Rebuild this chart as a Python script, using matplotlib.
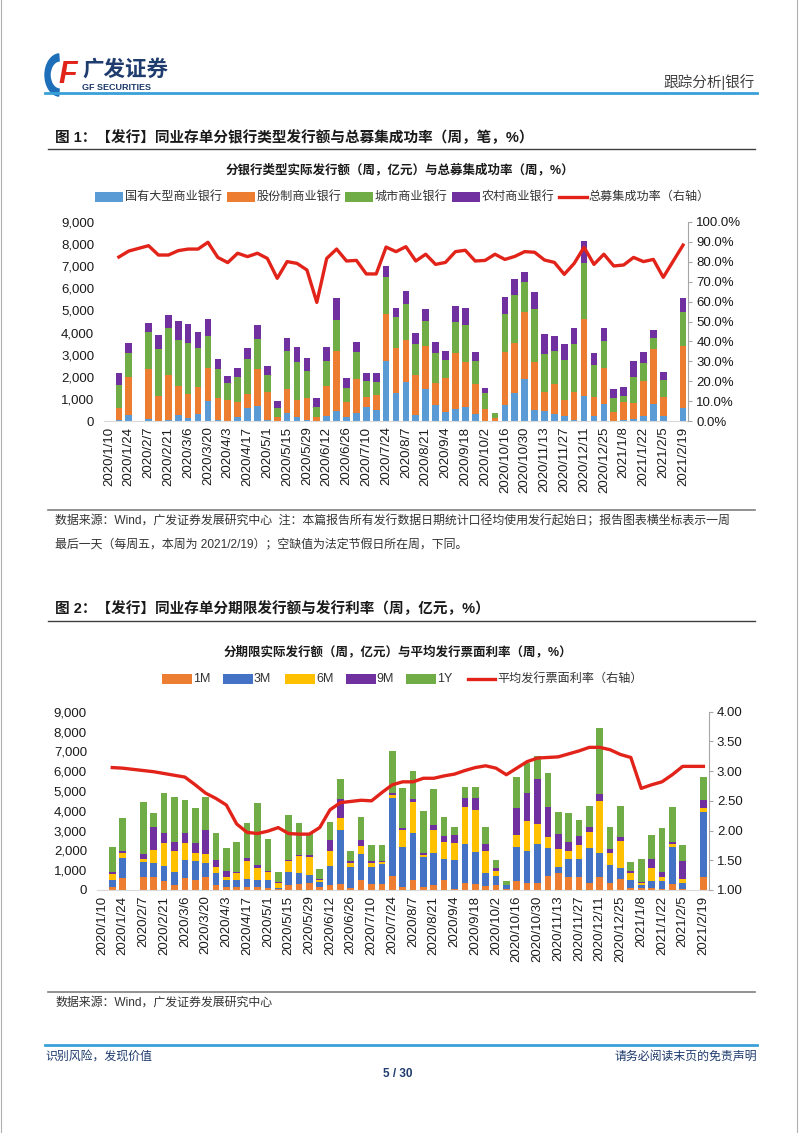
import numpy as np
import pandas as pd
import matplotlib
matplotlib.use('Agg')
import matplotlib.pyplot as plt
from matplotlib.patches import Rectangle, Wedge
from matplotlib.lines import Line2D
from matplotlib.ticker import FuncFormatter

plt.rcParams['font.family'] = ['Liberation Sans', 'Noto Sans CJK SC']

nan = np.nan

# weekly categories (Friday), labels shown every other week
weeks = pd.date_range('2020-01-10', '2021-02-19', freq='7D')
week_labels = [f'{d.year}/{d.month}/{d.day}' for d in weeks]

# ---- figure 1: issuance by bank type (100 mn yuan) and success rate (%)
bank_types = ['国有大型商业银行', '股份制商业银行', '城市商业银行', '农村商业银行']
big4 = [nan, 30, 290, nan, 70, 20, 40, 290, 150, 300,
        890, 60, 20, 180, 600, 680, 40, 0, 350, 200,
        40, 10, 220, 470, 180, 350, 630, 500, 2710, 1250,
        1780, 290, 1430, 720, 420, 530, 620, 300, 0, 0,
        720, 1250, 1900, 500, 470, 300, 230, 50, 1130, 230,
        770, 0, 50, 80, 230, 770, 230, nan, 570]
joint = [nan, 570, 1700, nan, 2270, 1110, 2030, 1300, 1070, 1250,
         1510, 960, 920, 680, 610, 1660, 1260, 160, 1090, 770,
         1020, 180, 1350, 2680, 690, 1540, 460, 660, 2140, 2060,
         1870, 1810, 1980, 980, 1540, 2530, 2030, 1360, 540, 150,
         2420, 2260, 3020, 2180, 860, 1370, 740, 1280, 3470, 870,
         1610, 390, 830, 750, 1580, 2490, 870, nan, 2820]
city = [nan, 1020, 1100, nan, 1670, 2120, 2120, 2090, 2310, 1770,
        1440, 1320, 770, 1120, 1580, 1380, 780, 420, 1740, 1720,
        1190, 450, 1150, 1440, 640, 1250, 720, 610, 1640, 1410,
        1620, 1380, 1110, 1390, 800, 1430, 1690, 1050, 710, 230,
        1690, 2190, 1350, 2370, 1690, 1510, 1790, 2140, 2530, 1430,
        1240, 640, 260, 1180, 800, 480, 760, nan, 1560]
rural = [nan, 530, 450, nan, 410, 640, 610, 860, 840, 720,
         790, 460, 340, 400, 530, 620, 420, 330, 570, 650,
         580, 380, 610, 960, 440, 420, 380, 420, 510, 400,
         630, 510, 550, 500, 410, 710, 790, 400, 230, 0,
         800, 730, 490, 800, 900, 670, 710, 750, 1010, 560,
         600, 400, 390, 700, 500, 380, 370, nan, 600]
success = [nan, 82.4, 85.4, nan, 88.1, 83.4, 83.4, 85.6, 86.4, 86.4,
           89.8, 82.2, 79.6, 84.3, 82.6, 84.3, 81.7, 71.7, 80.1, 79.2,
           75.9, 59.6, 81.7, 86.4, 80.4, 80.7, 73.9, 73.9, 87.4, 85.1,
           87.6, 80.4, 83.8, 78.7, 79.7, 85.1, 85.8, 80.4, 80.7, 83.8,
           81.2, 82.7, 85.1, 84.8, 80.9, 79.7, 73.7, 79.2, 87.3, 78.7,
           83.8, 77.9, 78.4, 82.2, 80.1, 81.2, 72.2, nan, 88.4]

# ---- figure 2: issuance by tenor and average coupon
tenors = ['1M', '3M', '6M', '9M', '1Y']
m1 = [nan, 170, 620, nan, 670, 640, 450, 250, 620, 510,
      670, 250, 170, 170, 170, 170, 80, 50, 250, 300,
      370, 130, 250, 300, 120, 510, 290, 290, 720, 170,
      510, 170, 250, 510, 50, 340, 290, 200, 250, 70,
      450, 370, 340, 720, 880, 670, 670, 370, 670, 340,
      540, 120, 80, 80, 30, 290, 70, nan, 640]
m3 = [nan, 340, 980, nan, 760, 740, 760, 680, 900, 950,
      710, 590, 340, 340, 370, 340, 430, 70, 680, 540,
      390, 260, 960, 2730, 1060, 1310, 890, 1010, 3910, 1980,
      2390, 1480, 1600, 1040, 1470, 1980, 1610, 680, 460, 180,
      1700, 1620, 1980, 1380, 300, 880, 880, 1770, 1180, 920,
      550, 390, 170, 390, 440, 1900, 270, nan, 3320]
m6 = [nan, 280, 250, nan, 120, 640, 1150, 1060, 840, 390,
      420, 340, 130, 370, 920, 620, 420, 250, 530, 880,
      920, 120, 780, 590, 170, 400, 200, 100, 170, 880,
      1560, 120, 1180, 890, 840, 1890, 2140, 1110, 270, 0,
      630, 1510, 1010, 560, 890, 420, 720, 770, 2660, 630,
      1380, 330, 120, 620, 200, 130, 200, nan, 160]
m9 = [nan, 120, 140, nan, 250, 1180, 540, 450, 540, 510,
      1230, 340, 320, 50, 140, 130, 30, 30, 70, 30,
      70, 30, 540, 960, 110, 310, 100, 80, 120, 100,
      120, 120, 250, 300, 420, 420, 590, 330, 110, 0,
      1340, 1420, 2260, 1550, 740, 440, 460, 290, 320, 160,
      220, 120, 50, 480, 260, 120, 920, nan, 430]
y1 = [nan, 1280, 1630, nan, 2660, 700, 1980, 2240, 1650, 1760,
      1650, 1380, 1160, 1480, 1770, 3120, 1600, 490, 2270, 1650,
      1150, 520, 900, 1030, 530, 1140, 790, 790, 2120, 2000,
      1450, 2100, 1800, 930, 420, 590, 560, 850, 430, 200,
      1570, 1480, 1180, 1680, 1150, 1500, 810, 1040, 3330, 1120,
      1550, 440, 1130, 1210, 2220, 1740, 810, nan, 1170]
coupon = [nan, 3.06, 3.05, nan, 3.01, 2.99, 2.96, 2.93, 2.90, 2.77,
          2.63, 2.54, 2.43, 2.11, 1.97, 1.95, 1.99, 2.05, 1.95, 1.94,
          1.94, 2.05, 2.35, 2.47, 2.49, 2.51, 2.50, 2.64, 2.77, 2.82,
          2.82, 2.88, 2.88, 2.92, 2.95, 3.01, 3.06, 3.09, 3.05, 2.94,
          3.05, 3.16, 3.22, 3.23, 3.24, 3.29, 3.34, 3.40, 3.40, 3.36,
          3.28, 3.23, 2.71, 2.77, 2.82, 2.94, 3.08, nan, 3.08]

colors1 = ['#5b9bd5', '#ed7d31', '#70ad47', '#7030a0']
colors2 = ['#ed7d31', '#4472c4', '#ffc000', '#7030a0', '#70ad47']
red = '#e2231a'
navy = '#1f3c6e'
txt = '#1a1a1a'

W, H = 802, 1133
fig = plt.figure(figsize=(W / 100, H / 100), dpi=100)


def T(x, y, s, **kw):
    kw.setdefault('va', 'center')
    fig.text(x / W, 1 - y / H, s, **kw)


def hline(x0, x1, y, color, lw):
    fig.add_artist(Line2D([x0 / W, x1 / W], [1 - y / H, 1 - y / H],
                          transform=fig.transFigure, color=color, lw=lw))


def vline(x, y0, y1, color, lw):
    fig.add_artist(Line2D([x / W, x / W], [1 - y0 / H, 1 - y1 / H],
                          transform=fig.transFigure, color=color, lw=lw))


def key(x, y, w, color, h=10):
    fig.add_artist(Rectangle((x / W, 1 - (y + h / 2) / H), w / W, h / H,
                             transform=fig.transFigure, facecolor=color,
                             edgecolor='none'))


def draw(rect, parts, colors, line, rlim, rstep, rfmt, bw):
    x = np.arange(len(weeks))
    ax = fig.add_axes(rect)
    bottom = np.zeros(len(x))
    for vals, c in zip(parts, colors):
        v = np.array(vals, dtype=float)
        ax.bar(x, v, bw, bottom=bottom, color=c, lw=0)
        bottom = bottom + np.nan_to_num(v)
    ax.set_xlim(-0.5, len(x) - 0.5)
    ax.set_ylim(0, 9000)
    ax.set_yticks(np.arange(0, 9001, 1000))
    ax.yaxis.set_major_formatter(FuncFormatter(lambda v, p: f'{v:,.0f}'))
    ax.set_xticks(x[::2])
    ax.set_xticklabels(week_labels[::2], rotation=90)
    ax.tick_params(axis='x', length=0, pad=4, labelsize=9.5, labelcolor=txt)
    ax.tick_params(axis='y', length=0, pad=7, labelsize=9.5, labelcolor=txt)
    for s in ['top', 'right', 'left']:
        ax.spines[s].set_visible(False)
    ax.spines['bottom'].set_color('#d9d9d9')

    axr = ax.twinx()
    r = np.array(line, dtype=float)
    m = ~np.isnan(r)
    axr.plot(x[m], r[m], color=red, lw=2.4)
    axr.set_ylim(*rlim)
    axr.set_yticks(np.arange(rlim[0], rlim[1] + 1e-9, rstep))
    axr.yaxis.set_major_formatter(FuncFormatter(rfmt))
    axr.tick_params(axis='y', length=3, color='#a6a6a6', pad=3,
                    labelsize=9.5, labelcolor=txt)
    for s in ['top', 'left', 'bottom']:
        axr.spines[s].set_visible(False)
    axr.spines['right'].set_color('#a6a6a6')
    return ax, axr


# ---------------- page header ----------------
vline(1, 0, H, '#b0b0b0', 0.8)
vline(797, 0, H, '#b0b0b0', 0.8)
fig.add_artist(Wedge((60 / W, 1 - 75 / H), 15 / W, 95, 265, width=5 / W,
                     transform=fig.transFigure, color='#1c6fb8'))
T(68, 75, 'F', fontsize=22, fontweight='bold', style='italic', color=red,
  ha='center', family='Liberation Sans')
T(82, 70, '广发证券', fontsize=15.5, fontweight='bold', color=navy)
T(82, 87, 'GF SECURITIES', fontsize=6.5, fontweight='bold', color=navy)
T(755, 82, '跟踪分析|银行', fontsize=10.5, color='#404040', ha='right')
hline(45, 757, 93, '#3aa0d8', 2.0)

# ---------------- figure 1 ----------------
T(55, 138, '图 1：【发行】同业存单分银行类型发行额与总募集成功率（周，笔，%）',
  fontsize=10.5, fontweight='bold', color=txt)
hline(48, 755, 149, '#404040', 1.0)
T(400, 170, '分银行类型实际发行额（周，亿元）与总募集成功率（周，%）',
  fontsize=9, fontweight='bold', color=txt, ha='center')

lx = [(95, 125), (227, 257), (345, 375), (452, 482)]
for (kx, tx), name, c in zip(lx, bank_types, colors1):
    key(kx, 197, 28, c)
    T(tx, 197, name, fontsize=8.7, color='#333333')
hline(559, 587, 197, red, 2.4)
T(588, 197, '总募集成功率（右轴）', fontsize=8.7, color='#333333')

draw([104 / W, 1 - 421 / H, 584 / W, 199 / H],
     [big4, joint, city, rural], colors1, success, (0, 100), 10,
     lambda v, p: f'{v:.1f}%', 0.67)

hline(48, 755, 510, '#7f7f7f', 1.2)
T(55, 521, '数据来源：Wind，广发证券发展研究中心  注：本篇报告所有发行数据日期统计口径均使用发行起始日；报告图表横坐标表示一周',
  fontsize=8.6, color='#333333')
T(55, 545, '最后一天（每周五，本周为 2021/2/19）；空缺值为法定节假日所在周，下同。',
  fontsize=8.6, color='#333333')

# ---------------- figure 2 ----------------
T(55, 609, '图 2：【发行】同业存单分期限发行额与发行利率（周，亿元，%）',
  fontsize=10.5, fontweight='bold', color=txt)
hline(48, 755, 621, '#404040', 1.0)
T(398, 652, '分期限实际发行额（周，亿元）与平均发行票面利率（周，%）',
  fontsize=9, fontweight='bold', color=txt, ha='center')

lx2 = [(162, 193), (223, 254), (285, 316), (346, 376), (406, 437)]
for (kx, tx), name, c in zip(lx2, tenors, colors2):
    key(kx, 679, 30, c)
    T(tx, 679, name, fontsize=9, color='#333333')
hline(468, 495, 679, red, 2.4)
T(497, 679, '平均发行票面利率（右轴）', fontsize=8.7, color='#333333')

draw([96.7 / W, 1 - 890 / H, 611.9 / W, 178.3 / H],
     [m1, m3, m6, m9, y1], colors2, coupon, (1, 4), 0.5,
     lambda v, p: f'{v:.2f}', 0.64)

hline(48, 755, 992, '#7f7f7f', 1.2)
T(55, 1003, '数据来源：Wind，广发证券发展研究中心', fontsize=8.6, color='#333333')

# ---------------- footer ----------------
hline(45, 757, 1045, '#3aa0d8', 2.0)
T(45, 1057, '识别风险，发现价值', fontsize=8.6, color=navy)
T(757, 1057, '请务必阅读末页的免责声明', fontsize=8.6, color=navy, ha='right')
T(398, 1074, '5 / 30', fontsize=8.5, fontweight='bold', color=navy, ha='center')

fig.savefig('out.png', dpi=100)
